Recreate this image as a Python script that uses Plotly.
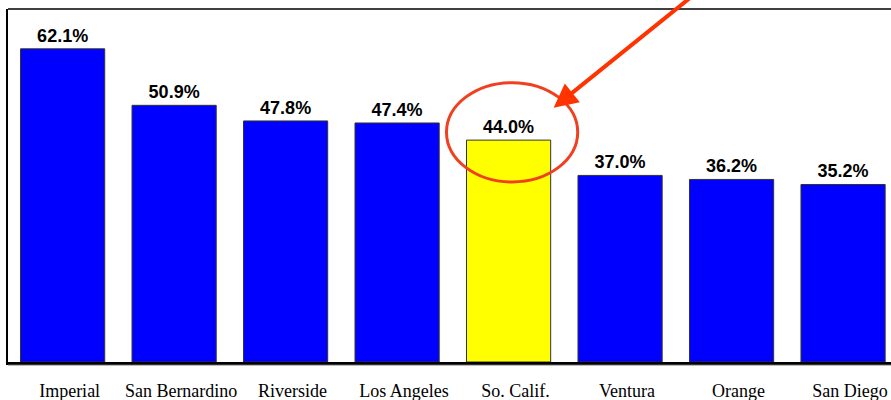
import plotly.graph_objects as go

categories = ["Imperial", "San Bernardino", "Riverside", "Los Angeles", "So. Calif.", "Ventura", "Orange", "San Diego"]
values = [62.1, 50.9, 47.8, 47.4, 44.0, 37.0, 36.2, 35.2]
highlight = "So. Calif."

colors = ["#FFFF00" if c == highlight else "#0000FF" for c in categories]
hi_idx = categories.index(highlight)
hi_val = values[hi_idx]

fig = go.Figure()
fig.add_trace(go.Bar(
    x=list(range(len(categories))), y=values,
    marker=dict(color=colors, line=dict(color="#333333", width=1)),
    width=0.755,
    texttemplate="%{y:.1f}%", textposition="outside", cliponaxis=False,
    textfont=dict(family="Liberation Sans", size=18, color="black", weight="bold"),
    hoverinfo="skip",
))

fig.update_layout(
    width=891, height=400,
    margin=dict(l=8, r=0, t=9, b=38, autoexpand=False),
    paper_bgcolor="white", plot_bgcolor="white",
    showlegend=False,
    xaxis=dict(range=[-0.49, 7.43], tickmode="array", tickvals=list(range(len(categories))),
               ticktext=categories, showgrid=False, zeroline=False, automargin=False,
               showline=True, linecolor="black", linewidth=3,
               ticks="", ticklabelstandoff=10, ticklabelshift=7,
               tickfont=dict(family="Liberation Serif", size=18, color="black")),
    yaxis=dict(range=[0, 70], showgrid=False, zeroline=False, showticklabels=False,
               automargin=False,
               showline=True, linecolor="black", linewidth=1.5, ticks=""),
)

# top frame line
fig.add_shape(type="line", xref="paper", yref="paper", x0=0, x1=1, y0=1, y1=1,
              line=dict(color="black", width=1.5))
# faint gray shadow below the axis
fig.add_shape(type="line", xref="paper", yref="paper", x0=0, x1=1, y0=-0.009, y1=-0.009,
              line=dict(color="#999999", width=1))

# highlight ellipse around the So. Calif. label
fig.add_shape(type="circle", xref="x", yref="y",
              x0=hi_idx - 0.557, x1=hi_idx + 0.62, y0=hi_val - 8.3, y1=hi_val + 11.4,
              line=dict(color="#F04020", width=3))

# arrow pointing at the ellipse (tail runs off the top of the image)
fig.add_annotation(x=hi_idx + 0.404, y=hi_val + 6.4, ax=hi_idx + 1.65, ay=hi_val + 28.6,
                   xref="x", yref="y", axref="x", ayref="y",
                   text="", showarrow=True, arrowhead=2, arrowsize=1.2, arrowwidth=4,
                   arrowcolor="#FF3300")

fig.write_html("out.html", config={"displayModeBar": False},
               post_script="document.body.style.margin='0';document.body.style.overflow='hidden';")
